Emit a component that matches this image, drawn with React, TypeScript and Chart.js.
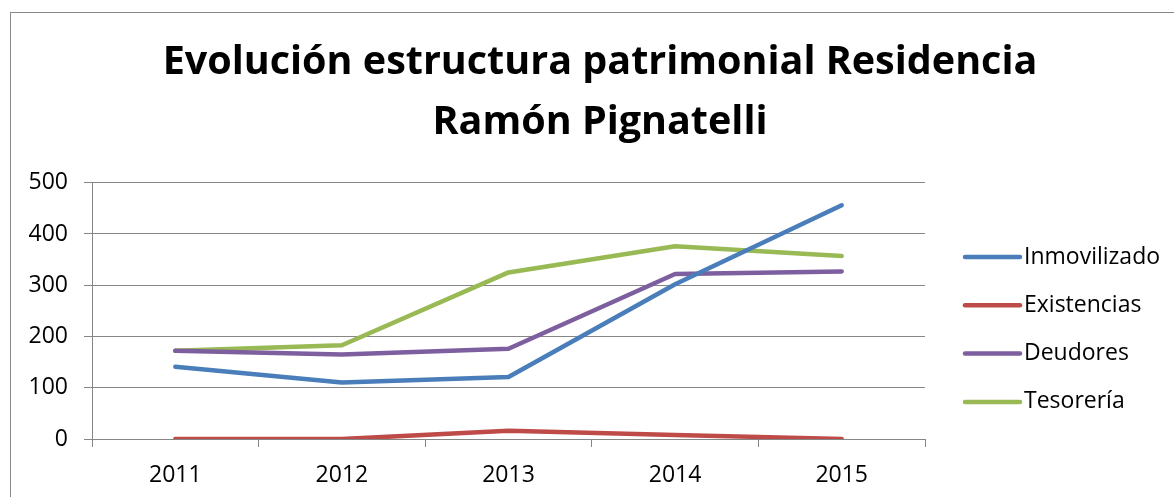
import React, { useEffect, useRef } from "react";
import { Chart, registerables } from "chart.js";

Chart.register(...registerables);

const years = ["2011", "2012", "2013", "2014", "2015"];
const inmovilizado = [141, 110, 121, 302, 456];
const existencias = [0, 0, 16, 8, 0];
const deudores = [172, 165, 176, 322, 327];
const tesoreria = [172, 183, 325, 376, 357];
const seriesNames = ["Inmovilizado", "Existencias", "Deudores", "Tesorería"];
const seriesColors = ["#4A7EBB", "#BE4B48", "#7D5FA0", "#98B954"];
const titleLines = ["Evolución estructura patrimonial Residencia", "Ramón Pignatelli"];

const FONT = "'Open Sans', Lato, sans-serif";
const GRID = "#868686";

const legendPlugin = {
  id: "customLegend",
  afterDraw(chart: any) {
    const ctx = chart.ctx;
    const x0 = 954;
    const x1 = 1009;
    const tx = 1013;
    const y0 = 244;
    const step = 48.3;
    ctx.save();
    chart.data.datasets.forEach((ds: any, i: number) => {
      const y = y0 + i * step;
      ctx.strokeStyle = ds.borderColor;
      ctx.lineWidth = 4.5;
      ctx.lineCap = "round";
      ctx.beginPath();
      ctx.moveTo(x0, y);
      ctx.lineTo(x1, y);
      ctx.stroke();
      ctx.fillStyle = "#000";
      ctx.font = `23px ${FONT}`;
      ctx.textAlign = "left";
      ctx.textBaseline = "middle";
      ctx.fillText(ds.label, tx, y);
    });
    ctx.restore();
  },
};

export default function App() {
  const ref = useRef<HTMLCanvasElement | null>(null);
  useEffect(() => {
    if (!ref.current) return;
    const values = [inmovilizado, existencias, deudores, tesoreria];
    const chart = new Chart(ref.current, {
      type: "line",
      data: {
        labels: years,
        datasets: seriesNames.map((name, i) => ({
          label: name,
          data: values[i],
          borderColor: seriesColors[i],
          backgroundColor: seriesColors[i],
          borderWidth: 4.5,
          pointRadius: 0,
          tension: 0,
          borderCapStyle: "round",
          borderJoinStyle: "round",
          yAxisID: "y",
        })),
      },
      options: {
        responsive: false,
        animation: false,
        layout: { padding: 0 },
        plugins: {
          legend: { display: false },
          tooltip: { enabled: false },
          title: {
            display: true,
            text: titleLines,
            color: "#000",
            font: { family: FONT, size: 39.5, weight: "bold", lineHeight: 60 / 39.5 },
            padding: { top: 20, bottom: 29.7 },
          },
        },
        scales: {
          x: {
            type: "category",
            offset: true,
            grid: {
              offset: true,
              drawOnChartArea: false,
              drawTicks: true,
              tickLength: 8,
              color: GRID,
            },
            border: { color: GRID, width: 1 },
            ticks: { color: "#000", font: { family: FONT, size: 23 }, padding: 15 },
            afterFit: (s: any) => {
              s.height = 50;
            },
          },
          y: {
            min: 0,
            max: 500,
            grid: { color: GRID, tickLength: 8, drawTicks: true },
            border: { color: GRID, width: 1 },
            ticks: { stepSize: 100, color: "#000", font: { family: FONT, size: 23 }, padding: 16 },
            afterFit: (s: any) => {
              s.width = 81;
            },
          },
          legendSpace: {
            type: "linear",
            position: "right",
            display: true,
            grid: { display: false, drawOnChartArea: false, drawTicks: false },
            border: { display: false },
            ticks: { display: false },
            afterFit: (s: any) => {
              s.width = 264;
            },
          },
        },
      },
      plugins: [legendPlugin],
    });
    return () => chart.destroy();
  }, []);

  return (
    <div style={{ position: "fixed", left: 0, top: 0, width: 1174, height: 497, overflow: "hidden", background: "#fff" }}>
      <div
        style={{
          position: "absolute",
          left: 10,
          top: 12,
          width: 1178,
          height: 600,
          border: "1px solid #898989",
          background: "#fff",
        }}
      >
        <canvas ref={ref} width={1178} height={476} style={{ display: "block" }} />
      </div>
    </div>
  );
}
